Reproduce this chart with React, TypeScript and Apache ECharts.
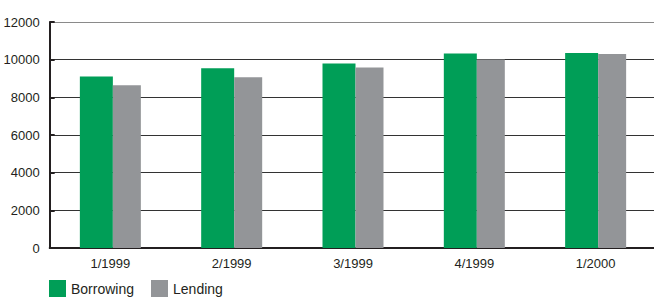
import React, { useEffect, useRef } from "react";
import * as echarts from "echarts";

const categories = ["1/1999", "2/1999", "3/1999", "4/1999", "1/2000"];
const borrowing = [9110, 9540, 9800, 10330, 10350];
const lending = [8640, 9060, 9590, 10010, 10300];
const yTicks = { min: 0, max: 12000, interval: 2000 };

const FONT = "'Liberation Sans', Arial, sans-serif";

export default function App() {
  const ref = useRef<HTMLDivElement>(null);
  useEffect(() => {
    if (!ref.current) return;
    const chart = echarts.init(ref.current, undefined, { renderer: "svg" });
    chart.setOption({
      animation: false,
      textStyle: { fontFamily: FONT, color: "#231f20" },
      grid: {
        left: 49.7,
        top: 22,
        bottom: 50,
        right: -2.3,
        containLabel: false,
        outerBoundsMode: "none",
      },
      legend: {
        left: 44,
        top: 275,
        itemWidth: 17,
        itemHeight: 17,
        itemGap: 17,
        icon: "rect",
        textStyle: { fontFamily: FONT, fontSize: 14, color: "#231f20" },
        data: ["Borrowing", "Lending"],
      },
      xAxis: {
        type: "category",
        data: categories,
        axisLine: { lineStyle: { color: "#231f20", width: 2 } },
        axisTick: { inside: true, length: 5, lineStyle: { color: "#231f20", width: 2 } },
        axisLabel: { fontFamily: FONT, fontSize: 13, color: "#231f20", margin: 9 },
      },
      yAxis: {
        type: "value",
        min: yTicks.min,
        max: yTicks.max,
        interval: yTicks.interval,
        axisLine: { show: true, lineStyle: { color: "#231f20", width: 2 } },
        axisTick: { show: true, inside: true, length: 5, lineStyle: { color: "#231f20", width: 2 } },
        axisLabel: {
          fontFamily: FONT,
          fontSize: 13,
          color: "#231f20",
          margin: 10,
          formatter: (v: number) => String(v),
        },
        splitLine: {
          show: true,
          lineStyle: { color: ["#333", "#333", "#333", "#333", "#333", "#333", "#8a8a8a"], width: 1 },
        },
      },
      series: [
        {
          name: "Borrowing",
          type: "bar",
          data: borrowing,
          barWidth: 33,
          barGap: "0%",
          itemStyle: { color: "#009e57" },
        },
        {
          name: "Lending",
          type: "bar",
          data: lending,
          barWidth: 28,
          barGap: "0%",
          itemStyle: { color: "#939598" },
        },
      ],
    });
    return () => chart.dispose();
  }, []);
  return (
    <div
      ref={ref}
      style={{ position: "absolute", left: 0, top: 0, width: 654, height: 298, background: "#fff" }}
    />
  );
}
